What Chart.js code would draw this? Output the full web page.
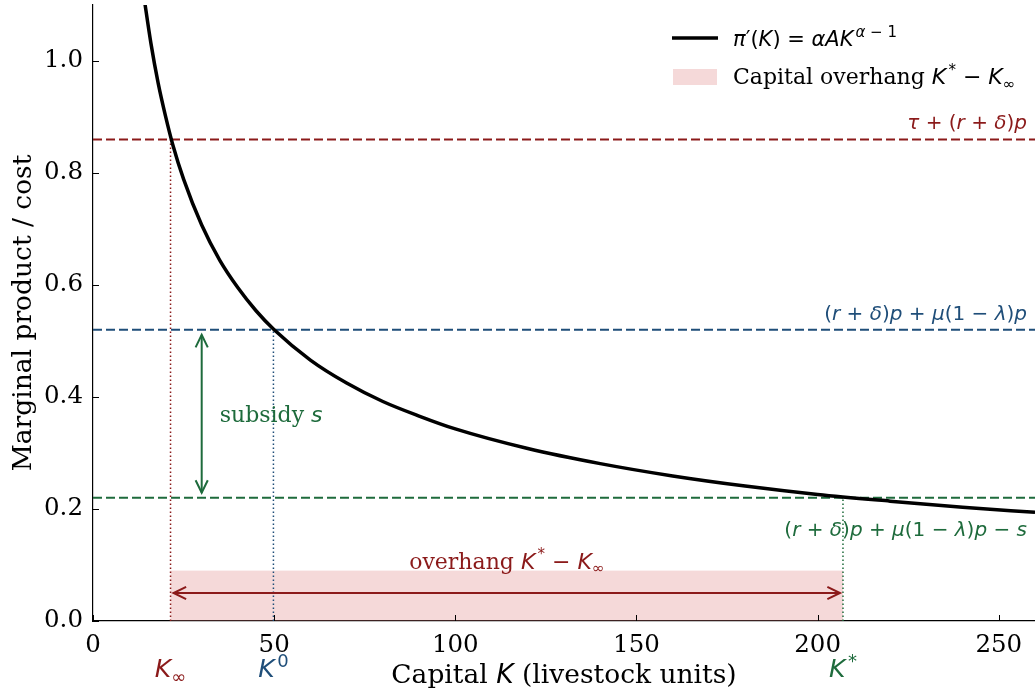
<!DOCTYPE html>
<html>
<head>
<meta charset="utf-8">
<script src="https://cdn.jsdelivr.net/npm/chart.js@4.4.1/dist/chart.umd.min.js"></script>
<style>
  html, body { margin: 0; padding: 0; background: #fff; }
  #wrap { width: 1035px; height: 692px; }
</style>
</head>
<body>
<div id="wrap"><canvas id="chart" width="1035" height="692"></canvas></div>
<script>
// values
const capitalK = [14, 16, 18, 20, 22, 25, 30, 35, 40, 45, 50, 60, 70, 80, 90, 100, 120, 140, 160, 180, 200, 220, 240, 260];
const marginalProduct = [1.117, 1.031, 0.960, 0.902, 0.851, 0.789, 0.707, 0.644, 0.595, 0.554, 0.520, 0.466, 0.425, 0.392, 0.366, 0.343, 0.308, 0.281, 0.259, 0.241, 0.226, 0.214, 0.203, 0.194];

const costLevels = [0.86, 0.52, 0.22];           // tau+(r+d)p, (r+d)p+mu(1-l)p, ... - s
const thresholdK = [21.4, 49.8, 207];            // K_inf, K0, K*
const levelColors = ['#8b1a1a', '#1f4e79', '#1e6b3c'];
const levelLabels = ['τ + (r + δ)p', '(r + δ)p + μ(1 − λ)p', '(r + δ)p + μ(1 − λ)p − s'];
const kLabels = ['K_{∞}', 'K^{0}', 'K^{*}'];

const overhangTop = 0.09;
const overhangArrowY = 0.05;
const subsidyK = 30;

const xTicks = [0, 50, 100, 150, 200, 250];
const yTicks = [0, 0.2, 0.4, 0.6, 0.8, 1.0];

const SERIF = '"DejaVu Serif", "Liberation Serif", serif';
const SANS = '"DejaVu Sans", sans-serif';

// tiny mathtext-ish parser: letters italic, rest upright, ^{} and _{}
function math(str, size) {
  const runs = [];
  let i = 0;
  const push = (ch, sz, dy) => {
    const it = /[A-Za-zα-ωΑ-Ω]/.test(ch);
    runs.push({ t: ch, f: (it ? 'italic ' : '') + sz + 'px ' + SANS, dy: dy });
  };
  while (i < str.length) {
    const c = str[i];
    if ((c === '^' || c === '_') && str[i + 1] === '{') {
      const end = str.indexOf('}', i);
      const inner = str.slice(i + 2, end);
      const sz = Math.round(size * 0.7);
      const dy = c === '^' ? -size * 0.42 : size * 0.22;
      if (c === '^') runs.push({ t: ' ', f: Math.round(size * 0.3) + 'px ' + SANS, dy: 0 });
      for (const ch of inner) push(ch, sz, dy);
      i = end + 1;
    } else {
      push(c, size, 0);
      i++;
    }
  }
  return runs;
}
function txt(str, size) {
  return [{ t: str, f: size + 'px ' + SERIF, dy: 0 }];
}
function drawRuns(ctx, runs, x, y, align, color) {
  let w = 0;
  runs.forEach(r => { ctx.font = r.f; w += ctx.measureText(r.t).width; });
  let cx = align === 'right' ? x - w : align === 'center' ? x - w / 2 : x;
  ctx.fillStyle = color;
  ctx.textBaseline = 'alphabetic';
  ctx.textAlign = 'left';
  runs.forEach(r => {
    ctx.font = r.f;
    ctx.fillText(r.t, cx, y + r.dy);
    cx += ctx.measureText(r.t).width;
  });
}
function arrowHead(ctx, x, y, ang, len) {
  ctx.beginPath();
  ctx.moveTo(x + len * Math.cos(ang + 0.45), y + len * Math.sin(ang + 0.45));
  ctx.lineTo(x, y);
  ctx.lineTo(x + len * Math.cos(ang - 0.45), y + len * Math.sin(ang - 0.45));
  ctx.stroke();
}

const overlay = {
  id: 'overlay',
  beforeDatasetsDraw(chart) {
    const { ctx, scales: { x, y } } = chart;
    ctx.save();
    ctx.fillStyle = 'rgba(220, 120, 120, 0.28)';
    const x0 = x.getPixelForValue(thresholdK[0]), x1 = x.getPixelForValue(thresholdK[2]);
    ctx.fillRect(x0, y.getPixelForValue(overhangTop), x1 - x0, y.getPixelForValue(0) - y.getPixelForValue(overhangTop));
    ctx.restore();
  },
  afterDatasetsDraw(chart) {
    const { ctx, chartArea: a, scales: { x, y } } = chart;
    ctx.save();
    // inward ticks
    ctx.strokeStyle = '#000';
    ctx.lineWidth = 1;
    xTicks.forEach(v => {
      const px = Math.round(x.getPixelForValue(v)) + 0.5;
      ctx.beginPath(); ctx.moveTo(px, a.bottom); ctx.lineTo(px, a.bottom - 6); ctx.stroke();
    });
    yTicks.forEach(v => {
      const py = Math.round(y.getPixelForValue(v)) + 0.5;
      ctx.beginPath(); ctx.moveTo(a.left, py); ctx.lineTo(a.left + 6, py); ctx.stroke();
    });

    // overhang arrow
    const ay = y.getPixelForValue(overhangArrowY);
    const ax0 = x.getPixelForValue(thresholdK[0]) + 3, ax1 = x.getPixelForValue(thresholdK[2]) - 3;
    ctx.strokeStyle = levelColors[0];
    ctx.lineWidth = 2;
    ctx.beginPath(); ctx.moveTo(ax0, ay); ctx.lineTo(ax1, ay); ctx.stroke();
    arrowHead(ctx, ax0, ay, 0, 14);
    arrowHead(ctx, ax1, ay, Math.PI, 14);
    drawRuns(ctx, txt('overhang ', 22).concat(math('K^{*} − K_{∞}', 22)),
      x.getPixelForValue((thresholdK[0] + thresholdK[2]) / 2), y.getPixelForValue(overhangTop) - 2, 'center', levelColors[0]);

    // subsidy arrow
    const sx = x.getPixelForValue(subsidyK);
    const sy0 = y.getPixelForValue(costLevels[1]) + 5, sy1 = y.getPixelForValue(costLevels[2]) - 5;
    ctx.strokeStyle = levelColors[2];
    ctx.beginPath(); ctx.moveTo(sx, sy0); ctx.lineTo(sx, sy1); ctx.stroke();
    arrowHead(ctx, sx, sy0, Math.PI / 2, 14);
    arrowHead(ctx, sx, sy1, -Math.PI / 2, 14);
    drawRuns(ctx, txt('subsidy ', 22).concat(math('s', 22)),
      sx + 18, y.getPixelForValue((costLevels[1] + costLevels[2]) / 2) + 8, 'left', levelColors[2]);

    // level labels
    drawRuns(ctx, math(levelLabels[0], 20), a.right - 8, y.getPixelForValue(costLevels[0]) - 10, 'right', levelColors[0]);
    drawRuns(ctx, math(levelLabels[1], 20), a.right - 8, y.getPixelForValue(costLevels[1]) - 10, 'right', levelColors[1]);
    drawRuns(ctx, math(levelLabels[2], 20), a.right - 8, y.getPixelForValue(costLevels[2]) + 38, 'right', levelColors[2]);

    // K labels under the axis
    kLabels.forEach((lab, i) => {
      drawRuns(ctx, math(lab, 25), x.getPixelForValue(thresholdK[i]), a.bottom + 56, 'center', levelColors[i]);
    });

    // axis titles
    drawRuns(ctx, txt('Capital ', 26.5).concat(math('K', 26.5), txt(' (livestock units)', 26.5)),
      (a.left + a.right) / 2, a.bottom + 62, 'center', '#000');
    ctx.save();
    ctx.translate(31, (a.top + a.bottom) / 2);
    ctx.rotate(-Math.PI / 2);
    drawRuns(ctx, txt('Marginal product / cost', 26.5), 0, 0, 'center', '#000');
    ctx.restore();

    // legend
    ctx.strokeStyle = '#000';
    ctx.lineWidth = 3.5;
    ctx.beginPath(); ctx.moveTo(672, 38); ctx.lineTo(718, 38); ctx.stroke();
    drawRuns(ctx, math('π′(K) = αAK^{α − 1}', 21), 733, 46, 'left', '#000');
    ctx.fillStyle = 'rgba(220, 120, 120, 0.28)';
    ctx.fillRect(673, 69, 44, 16);
    drawRuns(ctx, txt('Capital overhang ', 22).concat(math('K^{*} − K_{∞}', 22)), 733, 84, 'left', '#000');
    ctx.restore();
  }
};

const datasets = [{
  data: capitalK.map((k, i) => ({ x: k, y: marginalProduct[i] })),
  borderColor: '#000',
  borderWidth: 3.5,
  pointRadius: 0,
  cubicInterpolationMode: 'monotone',
  fill: false
}];
costLevels.forEach((c, i) => {
  datasets.push({
    data: [{ x: 0, y: c }, { x: 260, y: c }],
    borderColor: levelColors[i], borderWidth: 2, borderDash: [9, 4], pointRadius: 0, fill: false
  });
  datasets.push({
    data: [{ x: thresholdK[i], y: 0 }, { x: thresholdK[i], y: c }],
    borderColor: levelColors[i], borderWidth: 1.5, borderDash: [1.5, 2.5], pointRadius: 0, fill: false
  });
});

new Chart(document.getElementById('chart'), {
  type: 'line',
  data: { datasets: datasets },
  options: {
    responsive: false,
    animation: false,
    events: [],
    layout: { padding: { top: 5, right: 0, left: 0, bottom: 0 } },
    plugins: { legend: { display: false }, tooltip: { enabled: false } },
    scales: {
      x: {
        type: 'linear', min: 0, max: 260,
        afterFit(s) { s.height = 71; s.paddingLeft = 0; s.paddingRight = 0; },
        afterBuildTicks(s) { s.ticks = xTicks.map(v => ({ value: v })); },
        grid: { display: false, drawTicks: false },
        border: { display: true, color: '#000', width: 1.2 },
        ticks: { color: '#000', padding: 10, font: { family: SERIF, size: 24.5 } }
      },
      y: {
        min: 0, max: 1.1,
        afterFit(s) { s.width = 93; s.paddingTop = 0; s.paddingBottom = 0; },
        afterBuildTicks(s) { s.ticks = yTicks.map(v => ({ value: v })); },
        grid: { display: false, drawTicks: false },
        border: { display: true, color: '#000', width: 1.2 },
        ticks: { color: '#000', padding: 10, font: { family: SERIF, size: 24.5 },
          callback: v => v.toFixed(1) }
      }
    }
  },
  plugins: [overlay]
});
</script>
</body>
</html>
